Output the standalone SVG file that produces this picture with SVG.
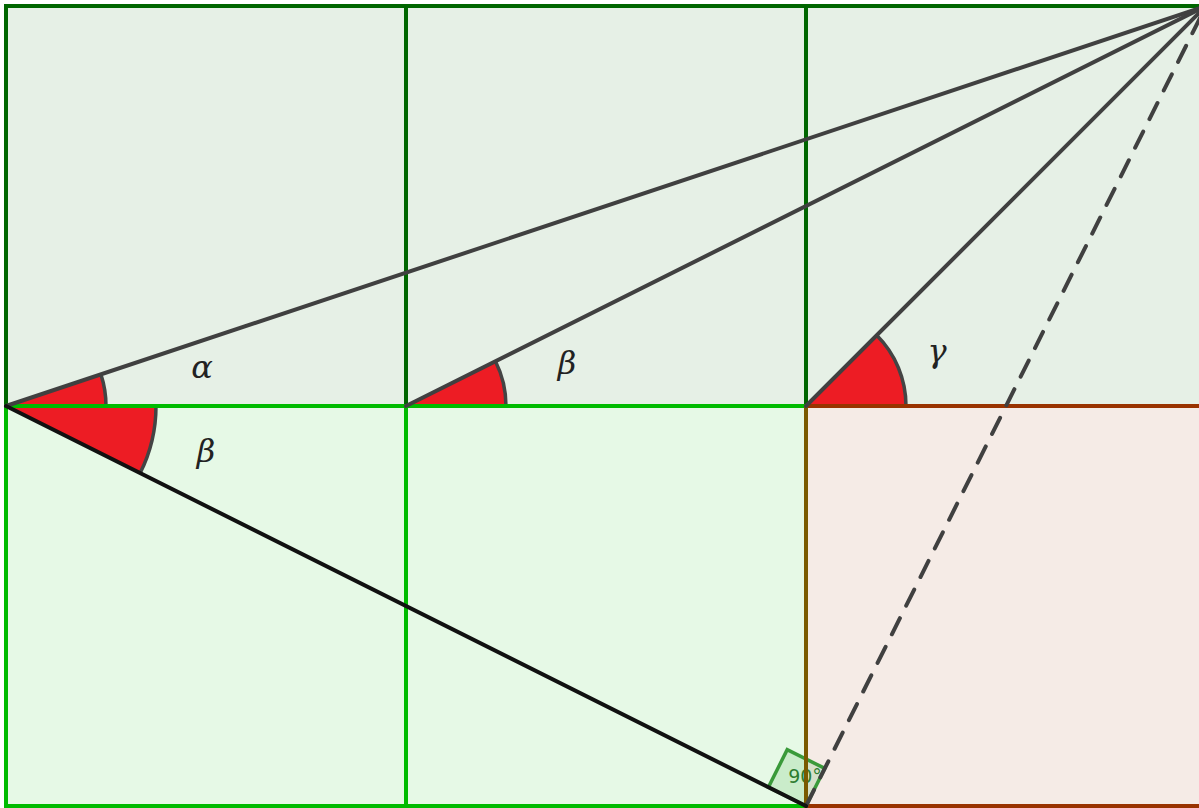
<svg xmlns="http://www.w3.org/2000/svg" width="1199" height="808" viewBox="0 0 1199 808">
<style>
.top{fill:#e6f0e6;stroke:#006600;stroke-width:4}
.green{fill:#e6f9e6;stroke:#00bb00;stroke-width:4}
.sector{fill:#ed1c24;stroke:none}
.arc{fill:none;stroke:#444;stroke-width:3.5}
.ray{stroke:#404040;stroke-width:4;fill:none;stroke-linecap:round}
.lbl{font-family:"DejaVu Serif","Liberation Serif",serif;font-style:italic;font-size:32px;fill:#222;text-anchor:middle}
</style>
<rect width="1199" height="808" fill="#ffffff"/>
<g id="top-squares">
<rect class="top" x="6" y="6" width="400" height="400"/>
<rect class="top" x="406" y="6" width="400" height="400"/>
<rect class="top" x="806" y="6" width="400" height="400"/>
</g>
<g id="green-squares">
<rect class="green" x="6" y="406" width="400" height="400"/>
<rect class="green" x="406" y="406" width="400" height="400"/>
</g>
<g id="brown-square">
<rect x="806" y="406" width="400" height="400" fill="#f5ebe6" stroke="none"/>
<line x1="806" y1="806" x2="1206" y2="806" stroke="#993300" stroke-width="4"/>
</g>
<g id="right-angle">
<polygon points="806,806 768.4,787.2 787.2,749.7 824.8,768.4" fill="#4caf50" fill-opacity="0.18" stroke="#3a9a3a" stroke-width="3.5"/>
<text x="805" y="783" font-family="DejaVu Sans,sans-serif" font-size="19" fill="#2e7d32" text-anchor="middle">90°</text>
</g>
<g id="angles">
<path class="sector" d="M6,406 L106,406 A100,100 0 0 0 100.87,374.38 Z"/>
<path class="arc" d="M106,406 A100,100 0 0 0 100.87,374.38"/>
<path class="sector" d="M6,406 L156,406 A150,150 0 0 1 140.16,473.08 Z"/>
<path class="arc" d="M156,406 A150,150 0 0 1 140.16,473.08"/>
<path class="sector" d="M406,406 L506,406 A100,100 0 0 0 495.44,361.28 Z"/>
<path class="arc" d="M506,406 A100,100 0 0 0 495.44,361.28"/>
<path class="sector" d="M806,406 L906,406 A100,100 0 0 0 876.71,335.29 Z"/>
<path class="arc" d="M906,406 A100,100 0 0 0 876.71,335.29"/>
</g>
<g id="square-edges">
<line x1="6" y1="406" x2="806" y2="406" stroke="#00bb00" stroke-width="4"/>
<line x1="806" y1="406" x2="1206" y2="406" stroke="#993300" stroke-width="4"/>
<line x1="806" y1="406" x2="806" y2="808" stroke="#7a5a00" stroke-width="4"/>
</g>
<g id="connectors">
<line class="ray" x1="6" y1="406" x2="1206" y2="6"/>
<line class="ray" x1="406" y1="406" x2="1206" y2="6"/>
<line class="ray" x1="806" y1="406" x2="1206" y2="6"/>
<line class="ray" x1="806" y1="806" x2="1206" y2="6" stroke-dasharray="18,14" stroke-linecap="butt"/>
<line x1="6" y1="406" x2="806" y2="806" stroke="#111" stroke-width="4" stroke-linecap="round"/>
</g>
<g id="labels">
<text class="lbl" x="202" y="378">α</text>
<text class="lbl" x="206" y="462">β</text>
<text class="lbl" x="567" y="374">β</text>
<text class="lbl" x="937" y="362">γ</text>
</g>
</svg>
